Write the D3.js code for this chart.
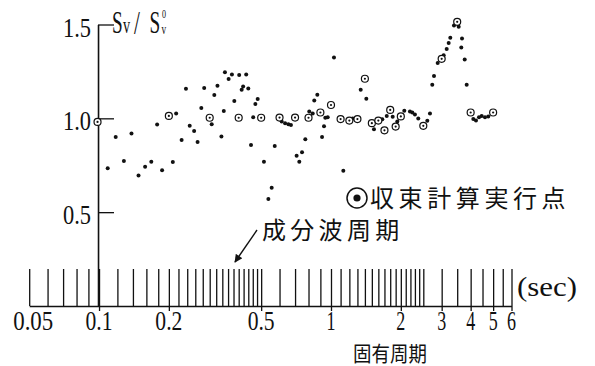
<!DOCTYPE html>
<html>
<head>
<meta charset="utf-8">
<script src="https://cdn.jsdelivr.net/npm/d3@7/dist/d3.min.js"></script>
<style>
  html, body { margin: 0; padding: 0; background: #fff; }
  svg { display: block; }
</style>
</head>
<body>
<svg id="chart" width="595" height="366"></svg>
<script>
// Periods (sec) of the component waves, drawn as the comb along the period axis
const componentPeriods = [
  0.05, 0.06, 0.07, 0.08, 0.09, 0.1, 0.12, 0.14, 0.16, 0.18,
  0.2, 0.22, 0.24, 0.26, 0.28, 0.3, 0.32, 0.34, 0.36, 0.38,
  0.4, 0.42, 0.44, 0.46, 0.48, 0.5, 0.6, 0.7, 0.8, 0.9,
  1.0, 1.1, 1.2, 1.3, 1.4, 1.5, 1.6, 1.7, 1.8, 1.9,
  2.0, 2.1, 2.2, 2.3, 2.4, 2.5, 3.0, 3.5, 4.0, 4.5, 5.0, 5.5, 6.0
];
const periodLabelValues = [0.05, 0.1, 0.2, 0.5, 1, 2, 3, 4, 5, 6];
const periodLabelTexts  = ["0.05", "0.1", "0.2", "0.5", "1", "2", "3", "4", "5", "6"];
const ratioTickValues = [0.5, 1.0, 1.5];
const ratioTickTexts  = ["0.5", "1.0", "1.5"];

// Sv / Sv0 at every natural period (plain dots)
const dotPeriods = [
  0.109, 0.118, 0.128, 0.138, 0.148, 0.158, 0.168, 0.178, 0.187, 0.208,
  0.215, 0.227, 0.237, 0.246, 0.257, 0.266, 0.276, 0.284, 0.306, 0.314,
  0.324, 0.337, 0.345, 0.349, 0.362, 0.374, 0.383, 0.402, 0.412, 0.418,
  0.431, 0.440, 0.452, 0.462, 0.472, 0.483, 0.514, 0.537, 0.555, 0.572,
  0.613, 0.634, 0.655, 0.672, 0.711, 0.730, 0.750, 0.775, 0.806, 0.834,
  0.847, 0.873, 0.915, 0.933, 0.945, 0.968, 1.030, 1.130, 1.241, 1.343,
  1.420, 1.532, 1.664, 1.739, 1.845, 1.931, 2.070, 2.190, 2.241, 2.301,
  2.378, 2.601, 2.671, 2.733, 2.780, 2.884, 3.060, 3.153, 3.216, 3.268,
  3.390, 3.552, 3.671, 3.645, 3.771, 3.846, 4.106, 4.217, 4.345, 4.463,
  4.611, 4.764
];
const dotRatios = [
  0.734, 0.901, 0.773, 0.919, 0.696, 0.742, 0.769, 0.967, 0.723, 0.767,
  1.026, 0.884, 1.158, 0.960, 0.933, 0.874, 1.055, 1.161, 0.969, 1.124,
  1.174, 0.903, 1.039, 1.245, 1.210, 1.233, 1.092, 1.231, 1.152, 1.170,
  1.233, 1.159, 0.858, 1.006, 1.076, 1.103, 0.769, 0.570, 0.630, 0.853,
  0.983, 0.974, 0.969, 0.964, 0.801, 0.769, 0.819, 0.888, 1.036, 1.026,
  1.095, 1.126, 0.901, 0.958, 1.003, 1.006, 1.324, 0.721, 0.999, 1.152,
  1.104, 0.942, 0.995, 1.013, 1.008, 0.983, 1.040, 1.036, 1.031, 1.020,
  0.999, 0.987, 1.026, 1.179, 1.226, 1.295, 1.336, 1.370, 1.402, 1.429,
  1.495, 1.488, 1.425, 1.377, 1.314, 1.179, 0.996, 0.988, 1.006, 1.013,
  1.006, 1.010
];

// Periods at which the convergence calculation was carried out (circled dots)
const convPeriods = [
  0.1, 0.2, 0.3, 0.4, 0.5, 0.6, 0.7, 0.8, 0.9, 1.0,
  1.1, 1.2, 1.3, 1.4, 1.5, 1.6, 1.7, 1.8, 1.9, 2.0,
  2.5, 3.0, 3.5, 4.0, 5.0
];
const convRatios = [
  0.981, 1.013, 1.003, 1.003, 1.003, 1.004, 1.004, 1.003, 1.031, 1.071,
  0.996, 0.988, 0.996, 1.211, 0.974, 0.988, 0.936, 1.045, 0.956, 1.010,
  0.960, 1.317, 1.514, 1.031, 1.031
];

const svg = d3.select("#chart");
const serif = "'Liberation Serif', 'DejaVu Serif', serif";
const cjk = "'Noto Sans CJK JP', 'Noto Sans CJK SC', sans-serif";
const ink = "#111";

const x = d3.scaleLog().domain([0.05, 6]).range([29.2, 511.5]);
const y = d3.scaleLinear().domain([0, 1.5]).range([306, 24.5]);
const x0 = x(0.1);

// Condensed serif text: the glyphs are squeezed horizontally to a given width.
function narrowText(parent, str, px, py, size, width, anchor) {
  const t = parent.append("text")
    .attr("font-family", serif)
    .attr("font-size", size)
    .attr("fill", ink)
    .attr("text-anchor", anchor || "start")
    .text(str);
  const natural = t.node().getComputedTextLength();
  t.attr("transform", `translate(${px},${py}) scale(${width / natural},1)`);
  return t;
}

// ---- period axis: baseline with the component-wave comb ----
const comb = d3.axisTop(x)
  .tickValues(componentPeriods)
  .tickSize(37)
  .tickSizeOuter(0)
  .tickFormat("");
const combG = svg.append("g")
  .attr("transform", `translate(0,${y(0)})`)
  .call(comb);
combG.select(".domain").attr("stroke", ink).attr("stroke-width", 1.6);
combG.selectAll(".tick line").attr("stroke", ink).attr("stroke-width", 1.3);

// labelled periods: short stub below the baseline
const labAxis = d3.axisBottom(x)
  .tickValues(periodLabelValues.slice(1))
  .tickSize(5)
  .tickSizeOuter(0)
  .tickFormat("");
const labG = svg.append("g")
  .attr("transform", `translate(0,${y(0)})`)
  .call(labAxis);
labG.select(".domain").remove();
labG.selectAll(".tick line").attr("stroke", ink).attr("stroke-width", 1.3);

const periodLabels = svg.append("g");
periodLabelValues.forEach((d, i) => {
  const s = periodLabelTexts[i];
  const w = s.length === 1 ? 9 : (s.length === 3 ? 27 : 40);
  narrowText(periodLabels, s, x(d) + (i === 0 ? 4 : 0), 330, 28, w, "middle");
});

narrowText(svg, "(sec)", 517, 296, 28, 60, "start");

// axis name under the period labels
const periodName = svg.append("text")
  .attr("font-family", cjk).attr("font-size", 21).attr("fill", ink)
  .text("固有周期");
{
  const natural = periodName.node().getComputedTextLength();
  periodName.attr("transform", `translate(353,360.5) scale(${74 / natural},1)`);
}

// ---- ratio axis at T = 0.1 s ----
const yAxis = d3.axisLeft(y)
  .tickValues(ratioTickValues)
  .tickSize(-16)
  .tickSizeOuter(0)
  .tickFormat("");
const yG = svg.append("g")
  .attr("transform", `translate(${x0 - 1},0)`)
  .call(yAxis);
yG.select(".domain").attr("stroke", ink).attr("stroke-width", 1.6);
yG.selectAll(".tick line").attr("stroke", ink).attr("stroke-width", 1.3);

const ratioLabels = svg.append("g");
ratioTickValues.forEach((d, i) => {
  narrowText(ratioLabels, ratioTickTexts[i], 91, y(d) + 12, 27, 28, "end");
});

// axis title  Sv / Sv0 (one condensed text, the 0 stacked over the v)
const sx = 0.62;
const title = svg.append("text")
  .attr("transform", `translate(112,0) scale(${sx},1)`)
  .attr("font-family", serif)
  .attr("fill", ink);
title.append("tspan").attr("x", 0).attr("y", 33).attr("font-size", 31).text("S");
title.append("tspan").attr("x", (123 - 112) / sx).attr("y", 33).attr("font-size", 23).text("v");
title.append("tspan").attr("x", (134 - 112) / sx).attr("y", 34).attr("font-size", 34).text("/");
title.append("tspan").attr("x", (149.5 - 112) / sx).attr("y", 33).attr("font-size", 31).text("S");
title.append("tspan").attr("x", (162 - 112) / sx).attr("y", 18).attr("font-size", 13).text("0");
title.append("tspan").attr("x", (161.5 - 112) / sx).attr("y", 34.3).attr("font-size", 15).text("v");

// ---- data ----
svg.append("g").selectAll("circle")
  .data(dotPeriods.map((p, i) => [p, dotRatios[i]]))
  .join("circle")
  .attr("cx", d => x(d[0]))
  .attr("cy", d => y(d[1]))
  .attr("r", 2)
  .attr("fill", ink);

const conv = svg.append("g").selectAll("g")
  .data(convPeriods.map((p, i) => [p, convRatios[i]]))
  .join("g")
  .attr("transform", d => `translate(${x(d[0]) - (d[0] === 0.1 ? 1.5 : 0)},${y(d[1])})`);
conv.append("circle").attr("r", 3.5).attr("fill", "#fff")
  .attr("stroke", ink).attr("stroke-width", 1.2);
conv.append("circle").attr("r", 1.1).attr("fill", ink);

// ---- legend ----
svg.append("circle").attr("cx", 357).attr("cy", 198).attr("r", 10)
  .attr("fill", "none").attr("stroke", ink).attr("stroke-width", 1.5);
svg.append("circle").attr("cx", 357).attr("cy", 198).attr("r", 3.6).attr("fill", ink);
svg.append("text")
  .attr("x", 370).attr("y", 206.5)
  .attr("font-family", cjk).attr("font-size", 24).attr("fill", ink)
  .attr("letter-spacing", 4.6)
  .text("収束計算実行点");

// component-wave annotation with arrow
svg.append("defs").append("marker")
  .attr("id", "head").attr("viewBox", "0 0 10 10")
  .attr("refX", 9).attr("refY", 5)
  .attr("markerWidth", 10).attr("markerHeight", 8)
  .attr("markerUnits", "userSpaceOnUse")
  .attr("orient", "auto")
  .append("path").attr("d", "M0,0 L10,5 L0,10 Z").attr("fill", ink);
svg.append("line")
  .attr("x1", 257).attr("y1", 230).attr("x2", 235).attr("y2", 262)
  .attr("stroke", ink).attr("stroke-width", 1.4)
  .attr("marker-end", "url(#head)");
svg.append("text")
  .attr("x", 262).attr("y", 238.5)
  .attr("font-family", cjk).attr("font-size", 24).attr("fill", ink)
  .attr("letter-spacing", 4.3)
  .text("成分波周期");
</script>
</body>
</html>
